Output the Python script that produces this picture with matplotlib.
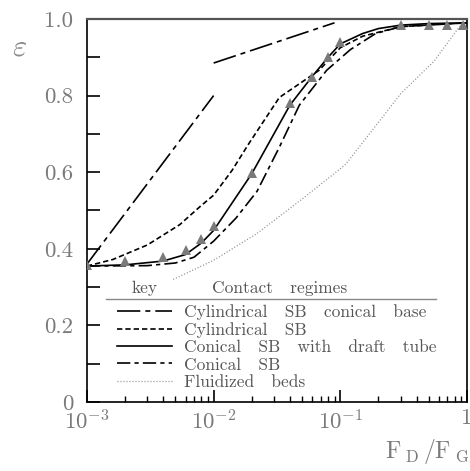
import numpy as np
import matplotlib
matplotlib.use("Agg")
import matplotlib.pyplot as plt
from matplotlib.ticker import FixedLocator, FuncFormatter, LogLocator, NullFormatter

plt.rcParams['font.family'] = 'serif'
plt.rcParams['font.serif'] = ['cmr10']
plt.rcParams['mathtext.fontset'] = 'cm'
plt.rcParams['axes.formatter.use_mathtext'] = True

# -----------------------------
# Data
# -----------------------------

# Cylindrical SB conical base (two straight pieces)
cyl_base_x1 = [1e-3, 1e-2]
cyl_base_y1 = [0.36, 0.80]
cyl_base_x2 = [1e-2, 0.09]
cyl_base_y2 = [0.885, 0.99]

# Cylindrical SB
cyl_x = [1e-3, 1.6e-3, 3e-3, 5.4e-3, 7.8e-3, 1e-2, 1.4e-2, 1.9e-2, 3.3e-2, 6.8e-2, 0.1, 0.15, 0.3, 1.0]
cyl_y = [0.355, 0.372, 0.41, 0.463, 0.51, 0.54, 0.605, 0.675, 0.795, 0.866, 0.925, 0.955, 0.98, 0.99]

# Conical SB with draft tube
draft_x = [1e-3, 2e-3, 4e-3, 6e-3, 8e-3, 1e-2, 2e-2, 4e-2, 6e-2, 8e-2, 0.1, 0.15, 0.2, 0.3, 0.5, 1.0]
draft_y = [0.355, 0.358, 0.368, 0.385, 0.415, 0.448, 0.596, 0.775, 0.85, 0.9, 0.935, 0.962, 0.975, 0.984, 0.988, 0.99]

# Conical SB
con_x = [1e-3, 3e-3, 5e-3, 7e-3, 1e-2, 1.5e-2, 2.2e-2, 3.3e-2, 4.75e-2, 7.8e-2, 0.12, 0.19, 0.3, 1.0]
con_y = [0.355, 0.356, 0.363, 0.378, 0.42, 0.48, 0.55, 0.665, 0.775, 0.866, 0.92, 0.962, 0.98, 0.99]

# Fluidized beds
fb_x = [4.8e-3, 1e-2, 2.2e-2, 5e-2, 0.11, 0.3, 0.55, 0.85, 1.0]
fb_y = [0.32, 0.37, 0.44, 0.53, 0.62, 0.805, 0.89, 0.975, 1.0]

# Experimental points (triangles)
exp_x = [1e-3, 2e-3, 4e-3, 6e-3, 8e-3, 1e-2, 2e-2, 4e-2, 6e-2, 8e-2, 0.1, 0.3, 0.5, 0.7, 0.93]
exp_y = [0.357, 0.367, 0.378, 0.397, 0.425, 0.459, 0.598, 0.78, 0.848, 0.9, 0.94, 0.984, 0.984, 0.984, 0.984]

labels = [
    'Cylindrical   SB   conical   base',
    'Cylindrical   SB',
    'Conical   SB   with   draft   tube',
    'Conical   SB',
    'Fluidized   beds'
]

# -----------------------------
# Figure
# -----------------------------

fig = plt.figure(figsize=(4.70, 4.71), dpi=100)
ax = fig.add_axes([0.185, 0.1465, 0.8086, 0.8132])

lw = 1.2
h1, = ax.plot(cyl_base_x1, cyl_base_y1, color='black', lw=lw, dashes=(14, 3, 3, 3))
ax.plot(cyl_base_x2, cyl_base_y2, color='black', lw=lw, dashes=(14, 3, 3, 3))
h2, = ax.plot(cyl_x, cyl_y, color='black', lw=lw, dashes=(3.2, 1.8))
h3, = ax.plot(draft_x, draft_y, color='black', lw=lw)
h4, = ax.plot(con_x, con_y, color='black', lw=lw, dashes=(8, 2.5, 2.5, 2.5))
h5, = ax.plot(fb_x, fb_y, color='#888888', lw=0.9, dashes=(0.8, 1.6))
ax.plot(exp_x, exp_y, linestyle='none', marker='^', markersize=7.5,
        color='#7a7a7a', markeredgewidth=0, zorder=5)

ax.set_xscale('log')
ax.set_xlim(1e-3, 1)
ax.set_ylim(0, 1)

# ticks
ax.yaxis.set_major_locator(FixedLocator([0, 0.2, 0.4, 0.6, 0.8, 1.0]))
ax.yaxis.set_minor_locator(FixedLocator([0.1, 0.3, 0.5, 0.7, 0.9]))
ax.yaxis.set_major_formatter(FuncFormatter(lambda v, p: '0' if v == 0 else '%.1f' % v))
ax.xaxis.set_major_locator(FixedLocator([1e-3, 1e-2, 1e-1, 1]))
ax.xaxis.set_major_formatter(FuncFormatter(
    lambda v, p: '1' if v == 1 else r'$10^{%d}$' % round(np.log10(v))))
ax.xaxis.set_minor_locator(LogLocator(base=10, subs=np.arange(2, 10), numticks=20))
ax.xaxis.set_minor_formatter(NullFormatter())

ax.tick_params(which='both', direction='in', top=False, right=False,
               colors='black', labelcolor='#7a7a7a', labelsize=16.5)
ax.tick_params(axis='y', which='both', length=9, width=1.2, pad=10)
ax.tick_params(axis='x', which='major', length=9, width=1.2, pad=5)
ax.tick_params(axis='x', which='minor', length=4.5, width=1.0)

for s in ['left', 'bottom', 'right']:
    ax.spines[s].set_linewidth(1.2)
ax.spines['top'].set_color('#555555')
ax.spines['top'].set_linewidth(1.6)

# axis labels
ax.text(-0.178, 0.925, r'$\varepsilon$', transform=ax.transAxes, fontsize=22,
        color='#8a8a8a', ha='center', va='center')
ax.text(1.005, -0.13, r'$\mathrm{F}_{\;\mathrm{D}}\,/\mathrm{F}_{\;\mathrm{G}}$',
        transform=ax.transAxes, fontsize=17, color='#7a7a7a', ha='right', va='center')

# legend with header
leg = ax.legend([h1, h2, h3, h4, h5], labels, loc='upper left',
                bbox_to_anchor=(0.078, 0.256), frameon=False, fontsize=12.5,
                handlelength=3.2, handletextpad=0.7, labelspacing=0.12,
                borderpad=0, borderaxespad=0, labelcolor='#555555')
ax.text(0.152, 0.297, 'key', transform=ax.transAxes, fontsize=12.5,
        color='#555555', ha='center', va='center')
ax.text(0.33, 0.297, 'Contact   regimes', transform=ax.transAxes, fontsize=12.5,
        color='#555555', ha='left', va='center')
ax.plot([0.05, 0.919], [0.27, 0.27], transform=ax.transAxes, color='#888888', lw=1.0)

fig.savefig('out.png', dpi=100)
